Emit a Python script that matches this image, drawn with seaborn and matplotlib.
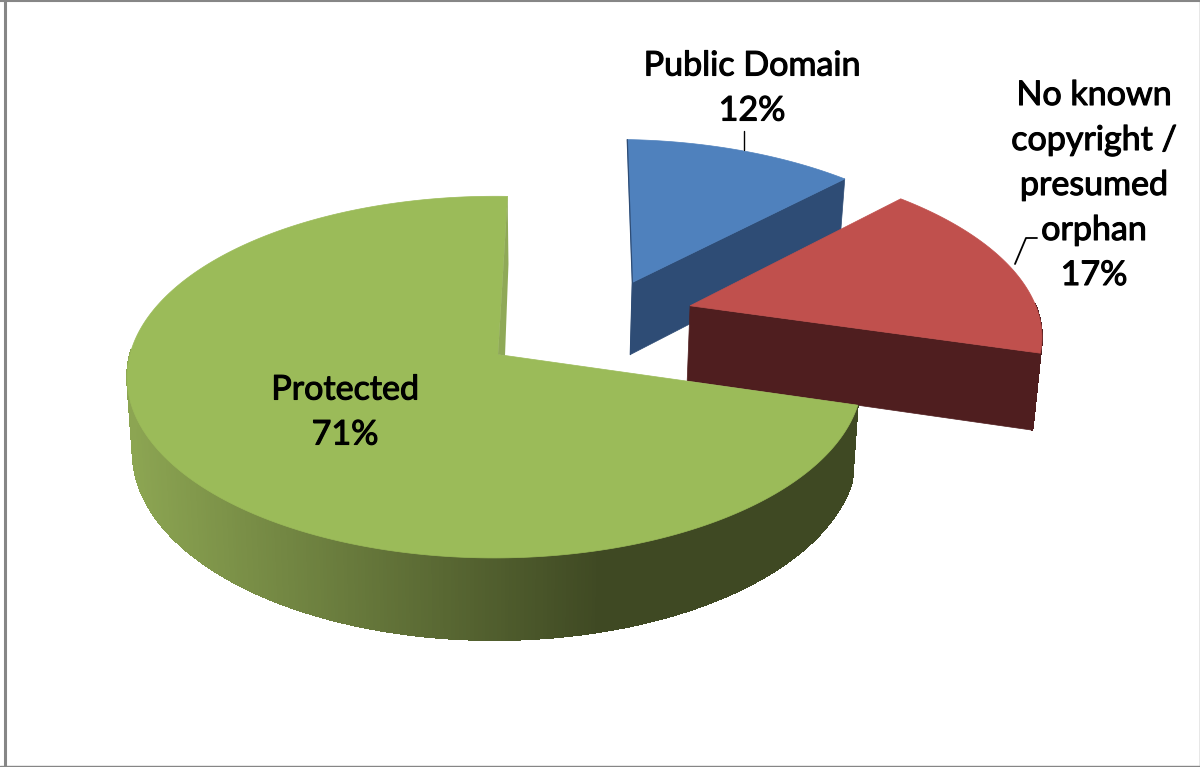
import matplotlib

matplotlib.use("Agg")
import matplotlib.patheffects as pe
import matplotlib.pyplot as plt
import numpy as np
import seaborn as sns

names = ["Public Domain", "No known\ncopyright /\npresumed\norphan", "Protected"]
percents = [12, 17, 71]
explode = [0.24, 0.265, 0.352]
top_colors = ["#4F81BD", "#C0504D", "#9BBB59"]
side_colors = ["#2E4C75", "#4F1E1F", "#3F4923"]
rim_light = "#8CA552"
start_angle = 88.3

# camera, fitted by eye to the 1200x767 picture
CX, CY = 498, 354.5
RX, RY = 364.7, 178
PERSP = 0.125
YAW = 0.009
DEPTH = 74
nudge_u = [0.01, 0.007, 0]
nudge_v = [0, -0.011, 0]
extra_depth = [1, 3, 0]


def project(u, v):
    s = 1 / (1 - PERSP * v + YAW * u)
    return CX + RX * u * s, CY + RY * v * s


def lower(x, y, extra=0):
    return CX + (x - CX) * 0.985, y + DEPTH + extra + 0.04 * (y - CY)


sns.set_theme(style="white")
plt.rcParams["font.family"] = ["Lato", "DejaVu Sans"]

fig = plt.figure(figsize=(12, 7.67), dpi=100)
ax = fig.add_axes([0, 0, 1, 1])
ax.set_xlim(0, 1200)
ax.set_ylim(767, 0)
ax.axis("off")

fracs = np.array(percents) / sum(percents) * 360
ends = start_angle - np.cumsum(fracs)
starts = ends + fracs
mids = np.radians((starts + ends) / 2)

# green slice sits at the origin of the camera, the others move relative to it
off_u = np.array(explode) * np.cos(mids)
off_v = -np.array(explode) * np.sin(mids)
off_u, off_v = off_u - off_u[2] + nudge_u, off_v - off_v[2] + nudge_v

ramp = sns.blend_palette([rim_light, side_colors[2]], 256)

for i in range(len(percents)):
    t = np.radians(np.linspace(starts[i], ends[i], 480))
    ax_x, ax_y = project(off_u[i] + np.cos(t), off_v[i] - np.sin(t))
    ap_x, ap_y = project(off_u[i], off_v[i])
    lo_x, lo_y = lower(ax_x, ax_y, extra_depth[i])
    lap_x, lap_y = lower(ap_x, ap_y, extra_depth[i])

    # rim, only the side facing the viewer
    for j in range(len(t) - 1):
        if np.sin(t[j]) > 0.02:
            continue
        if i == 2:
            k = np.clip((ax_x[j] - 130) / (600 - 130), 0, 1)
            col = ramp[int(k * 255)]
        else:
            col = side_colors[i]
        ax.fill([ax_x[j], ax_x[j + 1], lo_x[j + 1], lo_x[j]],
                [ax_y[j], ax_y[j + 1], lo_y[j + 1], lo_y[j]],
                color=col, lw=0.6, antialiased=False, zorder=i * 3 + 1)

    # cut face at the clockwise end of the slice
    if i < 2:
        ax.fill([ap_x, ax_x[-1], lo_x[-1], lap_x], [ap_y, ax_y[-1], lo_y[-1], lap_y],
                color=side_colors[i], lw=0.5, zorder=i * 3 + 2)

    # top
    ax.fill(np.r_[ap_x, ax_x], np.r_[ap_y, ax_y], color=top_colors[i], lw=0.5, zorder=i * 3 + 3)

    if i == 0:
        ax.plot([ax_x[0], ap_x, lap_x], [ax_y[0], ap_y, lap_y], color=side_colors[0], lw=0.9, zorder=i * 3 + 3)
    if i == 2:
        # thin visible side of the big slice
        ax.fill([ax_x[-1], lo_x[-1] + 1, ap_x + 7, ap_x], [ax_y[-1], lo_y[-1], ap_y + 1, ap_y],
                color="#8FA957", lw=0, zorder=i * 3 + 4)

# labels
label_pos = [(752, 88), (1094, 185), (345, 412)]
for name, pct, (lx, ly) in zip(names, percents, label_pos):
    ax.text(lx, ly, f"{name}\n{pct}%", ha="center", va="center", multialignment="center",
            fontsize=24.5, color="black", linespacing=1.5, zorder=20,
            path_effects=[pe.withStroke(linewidth=0.8, foreground="black")])

# leader lines
ax.plot([744, 744], [131, 150], color="black", lw=1.0, zorder=20)
ax.plot([1015, 1026, 1037], [264, 238, 238], color="black", lw=1.3, zorder=20)

# chart border
ax.plot([4.5, 4.5], [0, 767], color="#868686", lw=2.2, zorder=30)
ax.plot([0, 1200], [1, 1], color="#868686", lw=1.5, zorder=30)
ax.plot([1199.5, 1199.5], [0, 767], color="#868686", lw=1.0, zorder=30)
ax.plot([0, 1200], [766, 766], color="#868686", lw=1.0, zorder=30)

fig.savefig("out.png", dpi=100)
plt.close(fig)
